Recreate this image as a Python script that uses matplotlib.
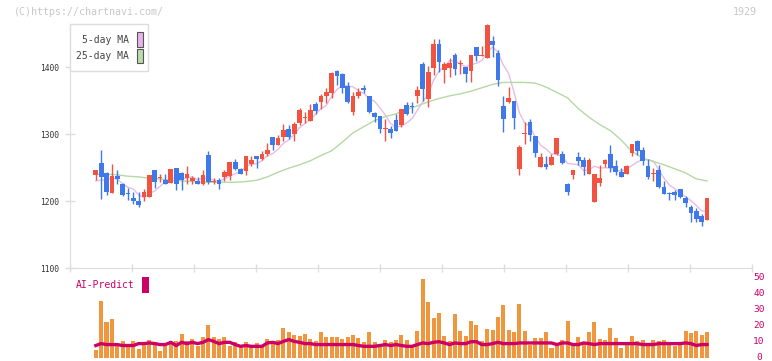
import numpy as np
import pandas as pd
import matplotlib
matplotlib.use("Agg")
import matplotlib.pyplot as plt
from matplotlib.patches import Rectangle
from matplotlib.transforms import ScaledTranslation

plt.rcParams['font.family'] = ['DejaVu Sans Mono']

# daily prices (one row per trading day)
opens = [1239, 1257, 1242, 1212, 1238, 1225, 1211, 1205, 1200, 1206,
         1206, 1246, 1234, 1231, 1227, 1249, 1242, 1234, 1230, 1230,
         1225, 1269, 1228, 1232, 1236, 1238, 1258, 1248, 1245, 1255,
         1267, 1263, 1270, 1295, 1284, 1295, 1308, 1300, 1317, 1324,
         1320, 1345, 1348, 1356, 1361, 1394, 1389, 1371, 1333, 1356,
         1369, 1357, 1332, 1327, 1308, 1308, 1321, 1313, 1343, 1342,
         1357, 1405, 1352, 1399, 1434, 1395, 1399, 1418, 1405, 1400,
         1394, 1430, 1417, 1414, 1439, 1421, 1342, 1348, 1350, 1248,
         1300, 1318, 1297, 1251, 1255, 1254, 1270, 1270, 1225, 1239,
         1266, 1261, 1240, 1199, 1227, 1255, 1270, 1252, 1244, 1240,
         1272, 1290, 1276, 1252, 1241, 1246, 1221, 1211, 1214, 1218,
         1205, 1191, 1185, 1177, 1171]
highs = [1247, 1276, 1243, 1255, 1246, 1227, 1219, 1214, 1214, 1218,
         1239, 1247, 1241, 1241, 1248, 1250, 1243, 1252, 1237, 1236,
         1246, 1275, 1234, 1235, 1246, 1258, 1263, 1250, 1267, 1267,
         1267, 1275, 1286, 1295, 1298, 1315, 1313, 1318, 1339, 1333,
         1345, 1348, 1360, 1368, 1393, 1396, 1391, 1378, 1362, 1368,
         1373, 1357, 1333, 1327, 1323, 1312, 1330, 1337, 1348, 1348,
         1372, 1408, 1401, 1442, 1442, 1408, 1414, 1421, 1410, 1400,
         1418, 1430, 1431, 1464, 1447, 1426, 1357, 1370, 1350, 1284,
         1318, 1322, 1297, 1272, 1267, 1270, 1294, 1274, 1227, 1247,
         1273, 1266, 1264, 1241, 1254, 1263, 1284, 1261, 1250, 1254,
         1285, 1291, 1280, 1262, 1249, 1254, 1230, 1214, 1216, 1218,
         1207, 1194, 1190, 1180, 1204]
lows = [1232, 1203, 1209, 1212, 1226, 1208, 1201, 1196, 1191, 1200,
        1206, 1219, 1229, 1226, 1227, 1216, 1216, 1225, 1225, 1225,
        1224, 1225, 1225, 1218, 1230, 1232, 1247, 1240, 1239, 1252,
        1250, 1261, 1267, 1276, 1284, 1290, 1292, 1290, 1313, 1317,
        1320, 1330, 1338, 1346, 1353, 1373, 1361, 1346, 1328, 1353,
        1361, 1332, 1318, 1302, 1289, 1294, 1305, 1311, 1328, 1332,
        1347, 1350, 1340, 1388, 1393, 1376, 1385, 1388, 1390, 1377,
        1378, 1409, 1417, 1414, 1415, 1371, 1303, 1347, 1307, 1239,
        1285, 1290, 1266, 1251, 1248, 1253, 1269, 1255, 1209, 1233,
        1254, 1239, 1240, 1199, 1223, 1251, 1244, 1239, 1236, 1240,
        1267, 1269, 1254, 1233, 1230, 1220, 1210, 1201, 1201, 1204,
        1191, 1169, 1169, 1162, 1171]
closes = [1246, 1236, 1213, 1237, 1233, 1209, 1210, 1200, 1194, 1213,
          1239, 1229, 1236, 1226, 1248, 1225, 1232, 1241, 1235, 1225,
          1239, 1229, 1229, 1225, 1244, 1258, 1248, 1240, 1267, 1261,
          1263, 1270, 1276, 1284, 1294, 1306, 1296, 1315, 1336, 1325,
          1336, 1335, 1357, 1362, 1391, 1387, 1369, 1348, 1357, 1362,
          1366, 1333, 1326, 1308, 1309, 1302, 1305, 1337, 1330, 1341,
          1366, 1367, 1393, 1434, 1408, 1404, 1406, 1397, 1406, 1390,
          1418, 1417, 1418, 1463, 1433, 1380, 1322, 1354, 1324, 1280,
          1301, 1298, 1272, 1265, 1251, 1266, 1294, 1256, 1214, 1246,
          1260, 1251, 1261, 1241, 1234, 1261, 1249, 1243, 1236, 1252,
          1285, 1275, 1260, 1236, 1242, 1221, 1210, 1210, 1209, 1206,
          1197, 1182, 1173, 1169, 1204]

# first four 5-day MA points (need days before the chart starts)
ma5_head = [1230, 1231, 1232, 1234]
# 25-day MA read every second day
ma25 = [1240, 1240, 1239, 1237, 1236, 1234, 1233, 1231, 1230, 1229,
        1228, 1228, 1228, 1228, 1229, 1231, 1236, 1243, 1249, 1254,
        1260, 1268, 1275, 1288, 1302, 1311, 1320, 1326, 1330, 1337,
        1342, 1348, 1353, 1357, 1360, 1364, 1369, 1374, 1377, 1377,
        1377, 1376, 1370, 1362, 1354, 1338, 1325, 1314, 1305, 1291,
        1274, 1264, 1259, 1254, 1248, 1242, 1233, 1230]

volume = [5.3, 35.7, 22.7, 24.5, 7.3, 10.9, 9.0, 10.9, 5.9, 9.0,
          11.5, 9.8, 4.2, 7.3, 9.0, 10.9, 15.2, 10.9, 12.1, 7.3,
          13.4, 20.8, 12.9, 12.1, 13.4, 7.8, 9.8, 7.3, 10.2, 7.3,
          9.6, 7.3, 12.1, 10.9, 11.5, 18.9, 16.0, 14.6, 14.0, 15.2,
          12.1, 10.4, 16.0, 13.4, 13.4, 13.4, 12.1, 13.4, 14.6, 12.5,
          9.8, 16.0, 9.8, 9.0, 11.5, 9.8, 11.0, 14.2, 11.0, 7.3,
          17.1, 49.4, 34.9, 25.0, 28.0, 14.0, 10.9, 27.6, 16.7, 13.6,
          23.3, 20.8, 10.4, 18.3, 17.7, 25.8, 33.2, 17.7, 16.5, 33.9,
          16.7, 8.4, 12.7, 12.7, 16.0, 6.5, 9.0, 11.5, 23.3, 8.4,
          13.4, 9.8, 16.5, 22.2, 12.1, 11.5, 18.9, 12.7, 6.5, 9.8,
          14.0, 10.4, 11.5, 8.4, 11.5, 10.9, 11.5, 9.0, 7.8, 9.0,
          16.7, 15.8, 17.1, 14.6, 16.5]
ai_predict = [7.8, 9.0, 8.4, 8.4, 8.4, 7.8, 7.8, 7.8, 9.0, 9.0,
              9.4, 9.0, 8.4, 8.4, 9.8, 7.8, 9.8, 9.0, 9.8, 9.0,
              9.8, 11.5, 10.4, 9.0, 9.8, 9.8, 8.4, 7.3, 7.8, 7.3,
              7.3, 7.3, 9.4, 9.8, 9.0, 10.4, 11.5, 10.4, 9.8, 9.0,
              9.0, 8.4, 8.4, 8.4, 8.4, 8.4, 8.4, 8.4, 8.4, 7.8,
              7.3, 7.3, 7.3, 7.8, 8.4, 7.8, 8.4, 7.8, 7.3, 7.3,
              8.4, 9.4, 9.0, 9.8, 10.2, 9.4, 8.4, 9.4, 9.0, 9.0,
              10.2, 10.2, 8.4, 8.4, 9.0, 9.8, 9.0, 9.0, 9.0, 9.4,
              9.4, 9.4, 9.4, 9.4, 9.4, 9.4, 8.4, 9.4, 9.4, 8.4,
              8.4, 9.4, 9.0, 8.4, 9.0, 9.0, 9.0, 9.0, 9.0, 9.0,
              9.0, 9.0, 8.4, 8.4, 8.4, 9.0, 9.0, 9.0, 9.0, 9.0,
              9.4, 9.0, 7.8, 8.4, 8.4]

date_labels = ["11/28", "12/12", "12/26", "1/15", "1/29", "2/13",
               "3/2", "3/16", "3/31", "4/14", "4/28"]
date_idx = [14, 24, 34, 44, 54, 64, 74, 84, 94, 104, 114]
price_ticks = [1100, 1200, 1300, 1400]
vol_ticks = [0, 10, 20, 30, 40, 50]

RED = '#F25240'
BLUE = '#3F79E9'
GRID = '#dddddd'
CRIMSON = '#CC0066'

W, H = 772, 361


def box(x0, y0, x1, y1):
    # pixel box (top-left origin) -> figure fraction
    return [x0 / W, 1 - y1 / H, (x1 - x0) / W, (y1 - y0) / H]


fig = plt.figure(figsize=(W / 100, H / 100), dpi=100)
ax = fig.add_axes(box(70, 24, 752, 268))
axv = fig.add_axes(box(70, 278, 752, 358))
over = fig.add_axes([0, 0, 1, 1])
over.set_xlim(0, W)
over.set_ylim(H, 0)
over.axis('off')

o = np.array(opens, float)
h = np.array(highs, float)
l = np.array(lows, float)
c = np.array(closes, float)
x = np.arange(len(c))
xlim = (-4.81, 122.4)

# moving averages
ma5 = pd.Series(c).rolling(5).mean().to_numpy()
ma5[:4] = ma5_head
ax.plot(x, ma5, color='#E8BCE8', lw=1.0, zorder=2)
ax.plot(np.arange(0, len(c), 2), ma25, color='#B5D9A5', lw=1.0, zorder=2)

# candles
cols = np.where(c >= o, RED, BLUE)
ax.vlines(x, l, h, colors=cols, lw=1.0, zorder=3)
ax.bar(x, np.maximum(np.abs(c - o), 1.3), bottom=np.minimum(o, c),
       width=0.88, color=cols, linewidth=0, zorder=4)

ax.set_xlim(xlim)
ax.set_ylim(1100, 1464.2)
for s in ['top', 'right']:
    ax.spines[s].set_visible(False)
for s in ['left', 'bottom']:
    ax.spines[s].set_color(GRID)
ax.set_yticks(price_ticks)
ax.set_yticklabels([str(t) for t in price_ticks])
ax.tick_params(axis='y', direction='inout', length=6.5, width=1, color=GRID,
               pad=4.5, labelsize=5.7, labelcolor='#333333')
ax.set_xticks(np.linspace(xlim[0], xlim[1], 12))
ax.set_xticklabels([])
ax.tick_params(axis='x', direction='inout', length=6, width=1, color=GRID)

for i, lab in zip(date_idx, date_labels):
    ax.text(i, -0.0615, lab, transform=ax.get_xaxis_transform(),
            ha='center', va='center', fontsize=5.8, color='#555555')

# volume panel
axv.bar(x, volume, width=0.75, color='#F0963E', linewidth=0)
axv.plot(x, ai_predict, color=CRIMSON, lw=2.4)
axv.set_xlim(xlim)
axv.set_ylim(0, 50)
for s in axv.spines.values():
    s.set_visible(False)
axv.set_xticks([])
axv.yaxis.tick_right()
axv.set_yticks(vol_ticks)
axv.tick_params(axis='y', length=0, pad=5, labelsize=6.8, labelcolor=CRIMSON)
lift = ScaledTranslation(0, 1.5 / 100, fig.dpi_scale_trans)
for t in axv.get_yticklabels():
    t.set_horizontalalignment('center')
    t.set_transform(t.get_transform() + lift)

# header and legend in pixel space
over.text(14, 12, "(C)https://chartnavi.com/", fontsize=7.2, color='#c8c8c8',
          ha='left', va='center')
over.text(757, 12, "1929", fontsize=7.2, color='#c8c8c8', ha='right', va='center')

over.add_patch(Rectangle((70, 24), 78, 47, facecolor='white', edgecolor=GRID, lw=1))
over.text(129, 40, "5-day MA", fontsize=7, color='#444444', ha='right', va='center')
over.text(129, 56, "25-day MA", fontsize=7, color='#444444', ha='right', va='center')
over.add_patch(Rectangle((136.5, 31.5), 6, 15, facecolor='#E8B4E8', edgecolor='#555555', lw=0.8))
over.add_patch(Rectangle((136.5, 48.5), 6, 14.5, facecolor='#B8DDA8', edgecolor='#555555', lw=0.8))

over.text(76, 285.5, "AI-Predict", fontsize=7, color=CRIMSON, ha='left', va='center')
over.add_patch(Rectangle((142, 277), 6.5, 15.5, facecolor=CRIMSON, edgecolor='none'))

fig.savefig('out.png', dpi=100)
